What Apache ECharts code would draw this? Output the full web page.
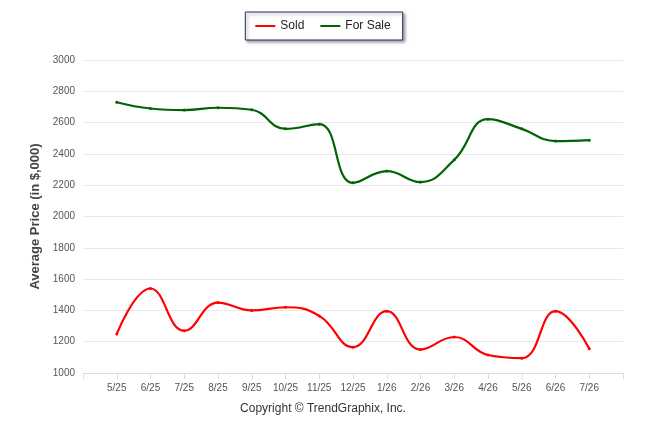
<!DOCTYPE html>
<html>
<head>
<meta charset="utf-8">
<script src="https://cdn.jsdelivr.net/npm/echarts@6/dist/echarts.min.js"></script>
<style>
  html, body { margin: 0; padding: 0; background: #fff; }
  #chart { width: 646px; height: 434px; }
</style>
</head>
<body>
<div id="chart"></div>
<script>
// month labels, padded with an empty slot at each end like the original axis
const months = ['', '5/25', '6/25', '7/25', '8/25', '9/25', '10/25', '11/25', '12/25',
  '1/26', '2/26', '3/26', '4/26', '5/26', '6/26', '7/26', ''];

// average price in $,000
const sold = [null, 1250, 1540, 1270, 1450, 1400, 1420, 1365, 1165,
  1395, 1150, 1230, 1115, 1095, 1395, 1155, null];
const forSale = [null, 2730, 2690, 2680, 2695, 2682, 2560, 2590, 2215,
  2290, 2220, 2362, 2622, 2560, 2482, 2488, null];

const yTicks = { min: 1000, max: 3000, step: 200 };

let myChart = echarts.init(document.getElementById('chart'));

let option = {
  animation: false,
  textStyle: { fontFamily: 'Liberation Sans' },
  legend: {
    top: 12,
    left: 'center',
    data: ['Sold', 'For Sale'],
    icon: 'rect',
    itemWidth: 20,
    itemHeight: 2,
    itemGap: 16,
    padding: [8, 12, 8, 10],
    backgroundColor: '#fff',
    borderColor: '#1c2f5e',
    borderWidth: 1,
    shadowColor: 'rgba(0,0,0,0.35)',
    shadowBlur: 3,
    shadowOffsetX: 2,
    shadowOffsetY: 2,
    textStyle: { fontSize: 12, color: '#222' }
  },
  grid: { left: 83, right: 23, top: 60, bottom: 61 },
  xAxis: {
    type: 'category',
    data: months,
    boundaryGap: false,
    axisLine: { lineStyle: { color: '#dcdcdc' } },
    axisTick: { show: true, length: 6, lineStyle: { color: '#dcdcdc' } },
    axisLabel: { color: '#555', fontSize: 10, margin: 10, interval: 0 },
    splitLine: { show: false }
  },
  yAxis: {
    type: 'value',
    min: yTicks.min,
    max: yTicks.max,
    interval: yTicks.step,
    name: 'Average Price (in $,000)',
    nameLocation: 'middle',
    nameGap: 39,
    nameTextStyle: { fontSize: 13, fontWeight: 'bold', color: '#444' },
    axisLine: { show: false },
    axisTick: { show: false },
    axisLabel: { color: '#555', fontSize: 10, margin: 8, formatter: v => String(v) },
    splitLine: { lineStyle: { color: '#e8e8e8' } }
  },
  graphic: [{
    type: 'text',
    left: 'center',
    top: 403,
    style: {
      text: 'Copyright \u00A9 TrendGraphix, Inc.',
      fontSize: 12,
      fill: '#333',
      fontFamily: 'Liberation Sans'
    }
  }],
  series: [{
    name: 'Sold',
    type: 'line',
    data: sold,
    smooth: 0.45,
    symbol: 'circle',
    symbolSize: 3,
    color: '#ff0000',
    lineStyle: { width: 2.2, color: '#ff0000' }
  }, {
    name: 'For Sale',
    type: 'line',
    data: forSale,
    smooth: 0.45,
    symbol: 'circle',
    symbolSize: 3,
    color: '#006400',
    lineStyle: { width: 2.2, color: '#006400' }
  }]
};

myChart.setOption(option);
</script>
</body>
</html>
